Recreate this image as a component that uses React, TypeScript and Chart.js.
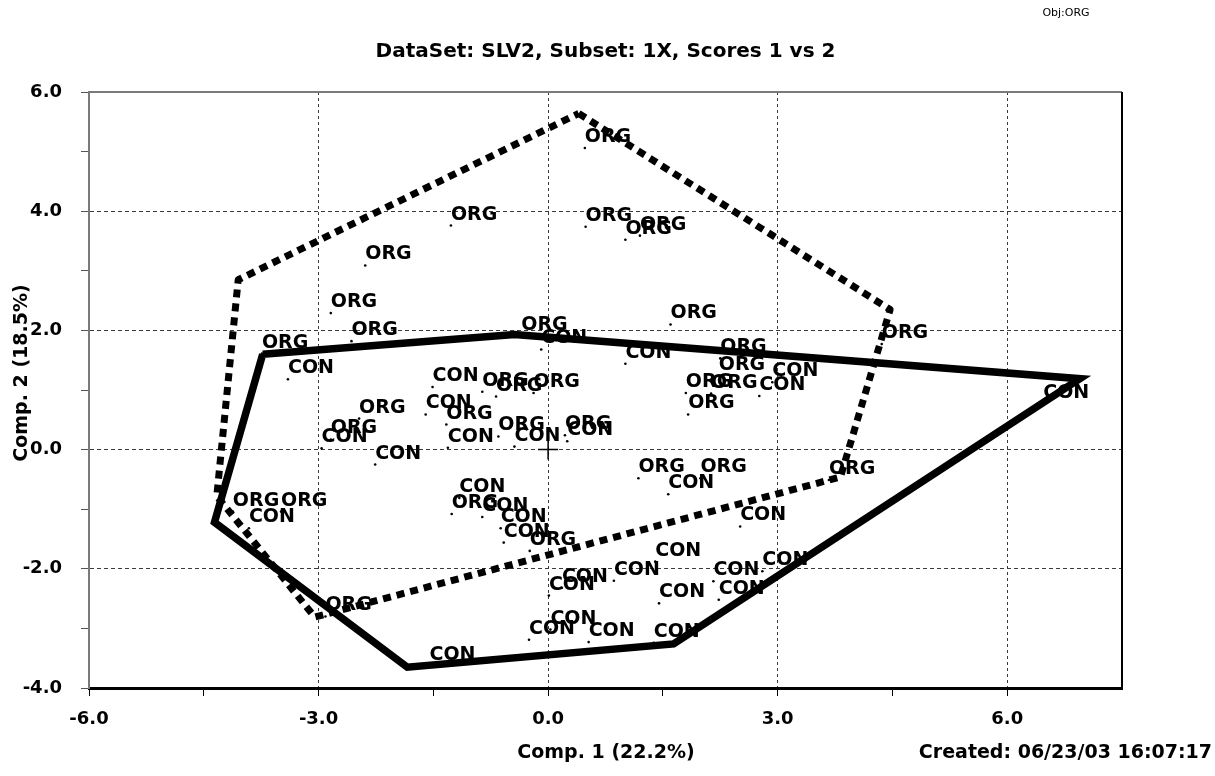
import React, { useEffect, useRef } from 'react';
import { Chart, registerables } from 'chart.js';

Chart.register(...registerables);

// Group names
const orgLabel = 'ORG';
const conLabel = 'CON';

// ORG scores (Comp. 1, Comp. 2)
const orgX = [0.48, -1.27, 0.49, 1.01, 1.20, -2.39, -2.84, -2.57, 1.60, -3.74, -0.35, 4.36, 2.25, 2.23, 1.80, 2.13, 1.83, -0.86, -0.68, -0.19, -2.47, -1.33, -2.84, -0.65, 0.22, 1.18, 1.99, 3.67, -4.12, -3.49, -1.26, -0.24, -2.91];
const orgY = [5.06, 3.76, 3.74, 3.52, 3.59, 3.09, 2.29, 1.82, 2.10, 1.61, 1.90, 1.77, 1.53, 1.24, 0.95, 0.94, 0.59, 0.97, 0.89, 0.95, 0.52, 0.42, 0.17, 0.22, 0.24, -0.48, -0.48, -0.51, -1.04, -1.04, -1.08, -1.70, -2.80];

// CON scores
const conX = [-3.40, -0.09, 1.01, 2.93, 2.76, 6.47, -1.51, -1.60, -2.96, -2.26, -1.31, -0.44, 0.25, 1.57, -3.91, -1.16, -0.86, -0.62, -0.58, 2.51, 1.40, 0.86, 0.01, 0.18, 1.45, 2.16, 2.23, 2.80, 1.38, -0.25, 0.53, 0.03, -1.55];
const conY = [1.18, 1.68, 1.44, 1.13, 0.90, 0.77, 1.05, 0.59, 0.02, -0.25, 0.03, 0.05, 0.14, -0.75, -1.32, -0.81, -1.13, -1.32, -1.56, -1.29, -1.88, -2.20, -2.45, -2.32, -2.58, -2.21, -2.52, -2.04, -3.24, -3.19, -3.23, -3.02, -3.63];

// Group outlines (closed polygons)
const orgHullX = [0.40, 4.47, 3.82, -3.05, -4.33, -4.05, 0.40];
const orgHullY = [5.64, 2.35, -0.46, -2.81, -0.78, 2.85, 5.64];
const conHullX = [-3.73, -0.44, 6.95, 1.64, -1.84, -4.36, -3.73];
const conHullY = [1.60, 1.93, 1.19, -3.26, -3.65, -1.22, 1.60];

// Axis tick labels
const xTickLabels = [-6, -3, 0, 3, 6];
const yTickLabels = [-4, -2, 0, 2, 4, 6];
const xGridValues = [-3, 0, 3, 6];
const yGridValues = [-2, 0, 2, 4];

const titleText = 'DataSet: SLV2, Subset: 1X, Scores 1 vs 2';
const xTitle = 'Comp. 1 (22.2%)';
const yTitle = 'Comp. 2 (18.5%)';
const createdText = 'Created: 06/23/03 16:07:17';
const objText = 'Obj:ORG';

const FONT = "'DejaVu Sans', sans-serif";
const near = (a: number, list: number[]) => list.some((v) => Math.abs(v - a) < 1e-6);
const toPts = (xs: number[], ys: number[]) => xs.map((x, i) => ({ x, y: ys[i] }));

const textPlugin = {
  id: 'textPlugin',
  beforeDatasetsDraw(chart: any) {
    const { ctx, scales } = chart;
    const sx = scales.x;
    const sy = scales.y;
    ctx.save();
    ctx.font = `bold 19px ${FONT}`;
    ctx.fillStyle = '#000';
    ctx.textAlign = 'left';
    ctx.textBaseline = 'alphabetic';
    const groups = [
      { label: orgLabel, xs: orgX, ys: orgY },
      { label: conLabel, xs: conX, ys: conY },
    ];
    groups.forEach((g) => {
      g.xs.forEach((v, i) => {
        ctx.fillText(g.label, sx.getPixelForValue(v), sy.getPixelForValue(g.ys[i]) - 6);
      });
    });
    ctx.restore();
  },
  afterDraw(chart: any) {
    const { ctx, chartArea } = chart;
    const { left, right, top, bottom } = chartArea;
    ctx.save();
    // top and right frame
    ctx.strokeStyle = '#7a7a7a';
    ctx.lineWidth = 2;
    ctx.beginPath();
    ctx.moveTo(left, top);
    ctx.lineTo(right, top);
    ctx.stroke();
    ctx.strokeStyle = '#000';
    ctx.beginPath();
    ctx.moveTo(right, top);
    ctx.lineTo(right, bottom);
    ctx.stroke();

    ctx.fillStyle = '#000';
    ctx.textBaseline = 'middle';
    ctx.textAlign = 'center';
    ctx.font = `bold 20px ${FONT}`;
    ctx.fillText(titleText, (left + right) / 2, 52);
    ctx.font = `bold 19px ${FONT}`;
    ctx.fillText(xTitle, 606, 753);
    ctx.textAlign = 'right';
    ctx.fillText(createdText, 1212, 753);
    ctx.textAlign = 'center';
    ctx.font = `11px ${FONT}`;
    ctx.fillText(objText, 1066, 13);

    ctx.save();
    ctx.translate(22, 373);
    ctx.rotate(-Math.PI / 2);
    ctx.font = `bold 19px ${FONT}`;
    ctx.textAlign = 'center';
    ctx.fillText(yTitle, 0, 0);
    ctx.restore();
    ctx.restore();
  },
};

export default function App() {
  const ref = useRef<HTMLCanvasElement>(null);

  useEffect(() => {
    if (!ref.current) return;
    const tickFont = { family: FONT, weight: 'bold' as const, size: 18 };
    const chart = new Chart(ref.current, {
      type: 'scatter',
      data: {
        datasets: [
          {
            label: 'ORG outline',
            data: toPts(orgHullX, orgHullY),
            showLine: true,
            borderColor: '#000',
            borderWidth: 7,
            borderDash: [8, 6],
            borderCapStyle: 'butt',
            borderJoinStyle: 'round',
            pointRadius: 0,
            fill: false,
            tension: 0,
          },
          {
            label: 'CON outline',
            data: toPts(conHullX, conHullY),
            showLine: true,
            borderColor: '#000',
            borderWidth: 7.5,
            borderJoinStyle: 'miter',
            pointRadius: 0,
            fill: false,
            tension: 0,
          },
          {
            label: 'origin',
            data: [{ x: 0, y: 0 }],
            pointStyle: 'cross',
            pointRadius: 10,
            borderColor: '#000',
            borderWidth: 1.5,
          },
          {
            label: orgLabel,
            data: toPts(orgX, orgY),
            pointRadius: 1.3,
            pointBorderWidth: 0,
            backgroundColor: '#000',
            borderColor: '#000',
          },
          {
            label: conLabel,
            data: toPts(conX, conY),
            pointRadius: 1.3,
            pointBorderWidth: 0,
            backgroundColor: '#000',
            borderColor: '#000',
          },
        ],
      },
      options: {
        responsive: false,
        animation: false,
        layout: { padding: { top: 92, right: 93, left: 0, bottom: 0 } },
        plugins: {
          legend: { display: false },
          tooltip: { enabled: false },
          title: { display: false },
        },
        scales: {
          x: {
            type: 'linear',
            position: 'bottom',
            min: -6,
            max: 7.5,
            afterFit: (s: any) => {
              s.height = 88;
            },
            ticks: {
              stepSize: 1.5,
              autoSkip: false,
              maxRotation: 0,
              padding: 13,
              color: '#000',
              font: tickFont,
              callback: (v: any) => (near(Number(v), xTickLabels) ? Number(v).toFixed(1) : ''),
            },
            grid: {
              color: (c: any) => (c.tick && near(c.tick.value, xGridValues) ? '#3a3a3a' : 'rgba(0,0,0,0)'),
              tickColor: (c: any) => (c.tick && c.tick.value > 7 ? 'rgba(0,0,0,0)' : '#000'),
              lineWidth: 1,
              tickLength: 8,
            },
            border: { color: '#000', width: 3, dash: [3, 3] },
          },
          y: {
            type: 'linear',
            min: -4,
            max: 6,
            afterFit: (s: any) => {
              s.width = 89;
            },
            ticks: {
              stepSize: 1,
              autoSkip: false,
              padding: 19,
              color: '#000',
              font: tickFont,
              callback: (v: any) => (near(Number(v), yTickLabels) ? Number(v).toFixed(1) : ''),
            },
            grid: {
              color: (c: any) => (c.tick && near(c.tick.value, yGridValues) ? '#3a3a3a' : 'rgba(0,0,0,0)'),
              tickColor: '#555',
              lineWidth: 1,
              tickLength: 8,
            },
            border: { color: '#7a7a7a', width: 2, dash: [4, 3] },
          },
        },
      },
      plugins: [textPlugin],
    });
    return () => chart.destroy();
  }, []);

  return (
    <div style={{ position: 'absolute', left: 0, top: 0, width: 1215, height: 776, background: '#fff' }}>
      <canvas ref={ref} width={1215} height={776} style={{ display: 'block', width: 1215, height: 776 }} />
    </div>
  );
}
